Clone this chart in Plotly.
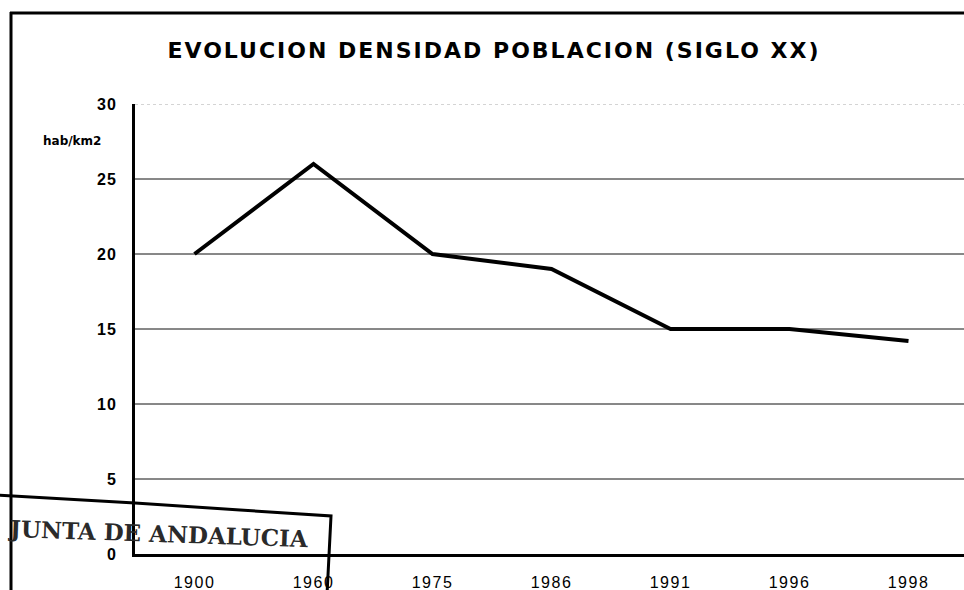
import plotly.graph_objects as go

# Population density, 20th century (inhabitants per km2)
years = ["1900", "1960", "1975", "1986", "1991", "1996", "1998"]
density = [20, 26, 20, 19, 15, 15, 14.2]
y_ticks = [0, 5, 10, 15, 20, 25, 30]

W, H = 964, 590
L, R, T, B = 135, 0, 104, 36
PW, PH = W - L - R, H - T - B


def px(x):
    """Horizontal pixel -> paper fraction."""
    return (x - L) / PW


def py(y):
    """Vertical pixel -> paper fraction."""
    return (H - B - y) / PH


def spaced(text, ls):
    return f'<span style="letter-spacing:{ls}px">{text}</span>'


fig = go.Figure()
fig.add_trace(go.Scatter(
    x=years, y=density, mode="lines",
    line=dict(color="black", width=4),
    hoverinfo="skip", showlegend=False,
))

shapes = []
# horizontal grid lines at each tick (top one dotted and faint)
for v in y_ticks[1:]:
    top = v == max(y_ticks)
    shapes.append(dict(
        type="line", xref="paper", yref="y", x0=0, x1=1, y0=v, y1=v,
        line=dict(color="#aaaaaa" if top else "#111111", width=1,
                  dash="dot" if top else "solid"),
        layer="below",
    ))

# outer frame (left and top borders)
shapes.append(dict(type="line", xref="paper", yref="paper",
                   x0=px(11), x1=px(11), y0=py(12), y1=py(592),
                   line=dict(color="black", width=3)))
shapes.append(dict(type="line", xref="paper", yref="paper",
                   x0=px(10), x1=px(966), y0=py(13), y1=py(13),
                   line=dict(color="black", width=3)))

# rubber stamp box in the lower-left corner
stamp_pts = [(-5, 495), (135, 503), (240, 510), (331, 516), (327, 595)]
path = "M " + " L ".join(f"{px(x):.5f},{py(y):.5f}" for x, y in stamp_pts)
shapes.append(dict(type="path", xref="paper", yref="paper", path=path,
                   line=dict(color="black", width=3)))

annotations = [
    dict(text="<b>hab/km2</b>", xref="paper", yref="paper",
         x=px(72), y=py(141), xanchor="center", yanchor="middle",
         showarrow=False,
         font=dict(family="DejaVu Sans", size=12, color="black")),
    dict(text="<b>JUNTA DE ANDALUCIA</b>", xref="paper", yref="paper",
         x=px(158), y=py(533), xanchor="center", yanchor="middle",
         showarrow=False, textangle=2,
         font=dict(family="DejaVu Serif", size=23, color="#2a2a2a")),
]

fig.update_layout(
    width=W, height=H,
    margin=dict(l=L, r=R, t=T, b=B, pad=0),
    paper_bgcolor="white", plot_bgcolor="white",
    title=dict(
        text=spaced("<b>EVOLUCION DENSIDAD POBLACION (SIGLO XX)</b>", 2),
        x=494 / W, y=1 - 50 / H, xanchor="center", yanchor="middle",
        font=dict(family="DejaVu Sans", size=22, color="black"),
    ),
    xaxis=dict(
        type="category", range=[-0.5, -0.5 + PW / 119],
        tickmode="array", tickvals=years,
        ticktext=[spaced(y, 1.5) for y in years],
        showgrid=False, zeroline=False,
        showline=True, linecolor="black", linewidth=3,
        ticks="", ticklabelstandoff=12,
        tickfont=dict(family="Liberation Sans, Arial", size=16, color="black"),
    ),
    yaxis=dict(
        range=[0, 30], tickmode="array", tickvals=y_ticks,
        ticktext=[spaced(f"<b>{v}</b>", 1) for v in y_ticks],
        showgrid=False, zeroline=False,
        showline=True, linecolor="black", linewidth=3,
        ticks="", ticklabelstandoff=12,
        tickfont=dict(family="Liberation Sans, Arial", size=16, color="black"),
    ),
    shapes=shapes,
    annotations=annotations,
)

fig.write_html("out.html")
